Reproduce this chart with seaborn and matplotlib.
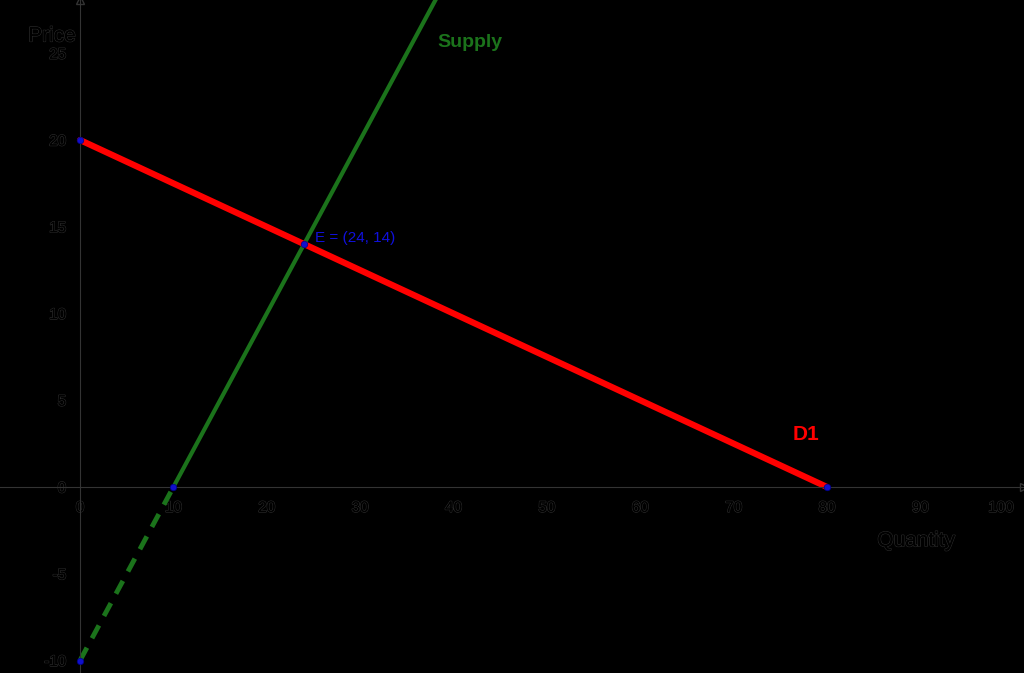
import numpy as np
import pandas as pd
import matplotlib
matplotlib.use('Agg')
import matplotlib.pyplot as plt
import matplotlib.patheffects as pe
import seaborn as sns

# demand curve D1: P = 20 - Q/4
demand_q = [0, 80]
demand_p = [20, 0]
# supply curve: P = Q - 10 (solid above Q=10, dashed below)
supply_q = [10, 40]
supply_p = [0, 30]
supply_neg_q = [0, 10]
supply_neg_p = [-10, 0]
# marked points
pts_q = [0, 10, 24, 0, 80]
pts_p = [20, 0, 14, -10, 0]

x_ticks = [0, 10, 20, 30, 40, 50, 60, 70, 80, 90, 100]
y_ticks = [-10, -5, 0, 5, 10, 15, 20, 25]

sns.set_style('dark', {'axes.facecolor': 'black', 'figure.facecolor': 'black'})
plt.rcParams['font.family'] = ['Liberation Sans', 'DejaVu Sans']
plt.rcParams['axes.unicode_minus'] = False

fig = plt.figure(figsize=(10.24, 6.73), dpi=100)
ax = fig.add_axes([0, 0, 1, 1])
ax.set_facecolor('black')

dem = pd.DataFrame({'q': demand_q, 'p': demand_p})
sup = pd.DataFrame({'q': supply_q, 'p': supply_p})
sup_neg = pd.DataFrame({'q': supply_neg_q, 'p': supply_neg_p})
pts = pd.DataFrame({'q': pts_q, 'p': pts_p})

green = '#1b731b'
sns.lineplot(data=sup, x='q', y='p', color=green, lw=3, ax=ax)
sns.lineplot(data=sup_neg, x='q', y='p', color=green, lw=3.5, ax=ax,
             linestyle=(0, (3, 2.2)))
sns.lineplot(data=dem, x='q', y='p', color='#ff0000', lw=4.5, ax=ax)
sns.scatterplot(data=pts, x='q', y='p', color='#1010cc', s=22, ax=ax,
                edgecolor='#000088', linewidth=0.5, zorder=5)

ax.set_xlim(-8.57, 101.1)
ax.set_ylim(-10.72, 28.07)

for s in ['top', 'right']:
    ax.spines[s].set_visible(False)
ax.spines['left'].set_position(('data', 0))
ax.spines['bottom'].set_position(('data', 0))
for s in ['left', 'bottom']:
    ax.spines[s].set_color('#333333')
    ax.spines[s].set_linewidth(0.8)
ax.plot(1, 0, '>', ms=6, mfc='none', mec='#333333', transform=ax.get_yaxis_transform(), clip_on=False)
ax.plot(0, 1, '^', ms=6, mfc='none', mec='#333333', transform=ax.get_xaxis_transform(), clip_on=False)

outline = [pe.withStroke(linewidth=1.0, foreground='#2c2c2c'), pe.Normal()]
ax.set_xticks(x_ticks)
ax.set_yticks(y_ticks)
ax.tick_params(colors='#2a2a2a', length=2, width=0.6, labelsize=11, labelcolor='black', pad=8)
for lab in ax.get_xticklabels() + ax.get_yticklabels():
    lab.set_path_effects(outline)
ax.get_xticklabels()[-1].set_horizontalalignment('right')
ax.grid(False)
ax.set_xlabel('')
ax.set_ylabel('')

ax.text(-3.0, 26.0, 'Price', fontsize=15, color='black', path_effects=outline, ha='center', va='center')
ax.text(85.4, -3.1, 'Quantity', fontsize=15, color='black', path_effects=outline, ha='left', va='center')
ax.text(38.3, 25.6, 'Supply', fontsize=14, fontweight='bold', color=green, ha='left', va='center')
ax.text(76.3, 3.0, 'D1', fontsize=15, fontweight='bold', color='#ff0000', ha='left', va='center')
ax.text(25.2, 14.35, 'E = (24, 14)', fontsize=11, color='#1010dd', ha='left', va='center')

fig.savefig('out.png', dpi=100, facecolor='black')
